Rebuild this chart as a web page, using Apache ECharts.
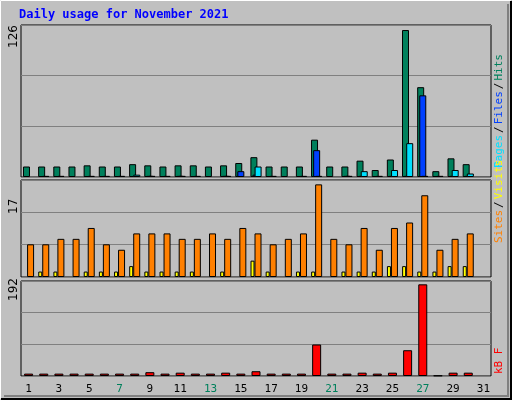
<!DOCTYPE html>
<html>
<head>
<meta charset="utf-8">
<script src="https://cdn.jsdelivr.net/npm/echarts@6/dist/echarts.min.js"></script>
<style>html,body{margin:0;padding:0;background:#c0c0c0;}#c{width:512px;height:400px;}</style>
</head>
<body>
<div id="c"></div>
<script>
var days = [];
for (var d = 1; d <= 31; d++) days.push(String(d));
var weekend = ['6','7','13','14','20','21','27','28'];
// 上图: hits / files / pages
var hits  = [9,9,9,9,10,9,9,11,10,9,10,10,9,10,12,17,9,9,9,32,9,9,14,6,15,126,77,5,16,11,null];
var files = [null,null,null,null,null,null,null,null,1,null,1,null,null,1,5,2,null,null,null,23,null,1,1,null,1,1,70,null,1,1,null];
var pages = [null,1,1,null,1,1,1,2,1,1,1,1,null,1,null,9,1,null,1,1,null,1,5,1,6,29,1,1,6,3,null];
// 中图: visits / sites
var visits = [null,1,1,null,1,1,1,2,1,1,1,1,null,1,null,3,1,null,1,1,null,1,1,1,2,2,1,1,2,2,null];
var sites  = [6,6,7,7,9,6,5,8,8,8,7,7,8,7,9,8,6,7,8,17,7,6,9,5,9,10,15,5,7,8,null];
// 下图: kB
var kbytes = [5,5,5,5,5,5,5,5,8,5,7,5,5,7,5,10,5,5,5,66,5,5,7,5,7,54,192,1,7,7,null];

var font = 'DejaVu Sans Mono';
var grids = [
  {left:21, right:21, top:25, height:152},
  {left:21, right:21, top:180, height:97},
  {left:21, right:21, top:281, height:95}
];
var maxes = [130.3, 17.8, 199];

function xAx(i){
  return {type:'category', gridIndex:i, data:days,
    axisLine:{show:false}, axisTick:{show:false},
    axisLabel:{show:i==2, fontFamily:font, fontSize:11, margin:8,
      color:function(v){ return weekend.indexOf(v) >= 0 ? '#00805c' : '#000'; }}};
}
function yAx(i){
  return {type:'value', gridIndex:i, min:0, max:maxes[i], interval:maxes[i]/3,
    axisLabel:{show:false}, axisLine:{show:false}, axisTick:{show:false},
    splitLine:{lineStyle:{color:'#808080', width:1}}};
}
function bar(name, data, idx, color, w, gap){
  return {type:'bar', name:name, data:data, xAxisIndex:idx, yAxisIndex:idx,
    barWidth:w, barGap:gap, animation:false, silent:true,
    itemStyle:{color:color, borderColor:'#000', borderWidth:1}};
}

var chart = echarts.init(document.getElementById('c'));
chart.setOption({
  backgroundColor:'#c0c0c0',
  grid: grids.map(function(g){ return Object.assign({show:true, backgroundColor:'#c0c0c0', borderColor:'#000', borderWidth:1}, g); }),
  xAxis:[xAx(0), xAx(1), xAx(2)],
  yAxis:[yAx(0), yAx(1), yAx(2)],
  series:[
    bar('Hits', hits, 0, '#00805c', 7, '-70%'),
    bar('Files', files, 0, '#0040ff', 7, '-70%'),
    bar('Pages', pages, 0, '#00e0ff', 7, '-70%'),
    bar('Visits', visits, 1, '#ffff00', 4, 0),
    bar('Sites', sites, 1, '#ff8000', 7, 0),
    bar('kB', kbytes, 2, '#ff0000', 9, 0)
  ],
  graphic:[
    {type:'rect', shape:{x:0.5, y:0.5, width:510, height:398}, style:{fill:null, stroke:'#ffffff', lineWidth:1}, z:-1},
    {type:'polyline', shape:{points:[[511,1],[511,399],[1,399]]}, style:{stroke:'#000', lineWidth:2, fill:null}},
    {type:'polyline', shape:{points:[[508,4],[508,396],[4,396]]}, style:{stroke:'#808080', lineWidth:2, fill:null}},
    {type:'text', left:19, top:9, style:{text:'Daily usage for November 2021', fill:'#0000ff', font:'bold 12px ' + font}},
    {type:'text', x:8, y:48, rotation:Math.PI/2, style:{text:'126', fill:'#000', font:'12px DejaVu Sans'}},
    {type:'text', x:8, y:214, rotation:Math.PI/2, style:{text:'17', fill:'#000', font:'12px DejaVu Sans'}},
    {type:'text', x:8, y:301, rotation:Math.PI/2, style:{text:'192', fill:'#000', font:'12px DejaVu Sans'}},
    {type:'text', x:494, y:168, rotation:Math.PI/2, style:{
      text:'{p|Pages}{s|/}{f|Files}{s|/}{h|Hits}', font:'11px ' + font,
      rich:{p:{fill:'#00e0ff', fontFamily:font, fontSize:11}, f:{fill:'#0040ff', fontFamily:font, fontSize:11},
            h:{fill:'#00805c', fontFamily:font, fontSize:11}, s:{fill:'#000', fontFamily:font, fontSize:11, padding:[0,2]}}}},
    {type:'text', x:494, y:243, rotation:Math.PI/2, style:{
      text:'{a|Sites}{s|/}{b|Visits}', font:'11px ' + font,
      rich:{a:{fill:'#ff8000', fontFamily:font, fontSize:11}, b:{fill:'#ffff00', fontFamily:font, fontSize:11},
            s:{fill:'#000', fontFamily:font, fontSize:11, padding:[0,2]}}}},
    {type:'text', x:494, y:374, rotation:Math.PI/2, style:{text:'kB F', fill:'#ff0000', font:'11px ' + font}}
  ]
});
</script>
</body>
</html>
